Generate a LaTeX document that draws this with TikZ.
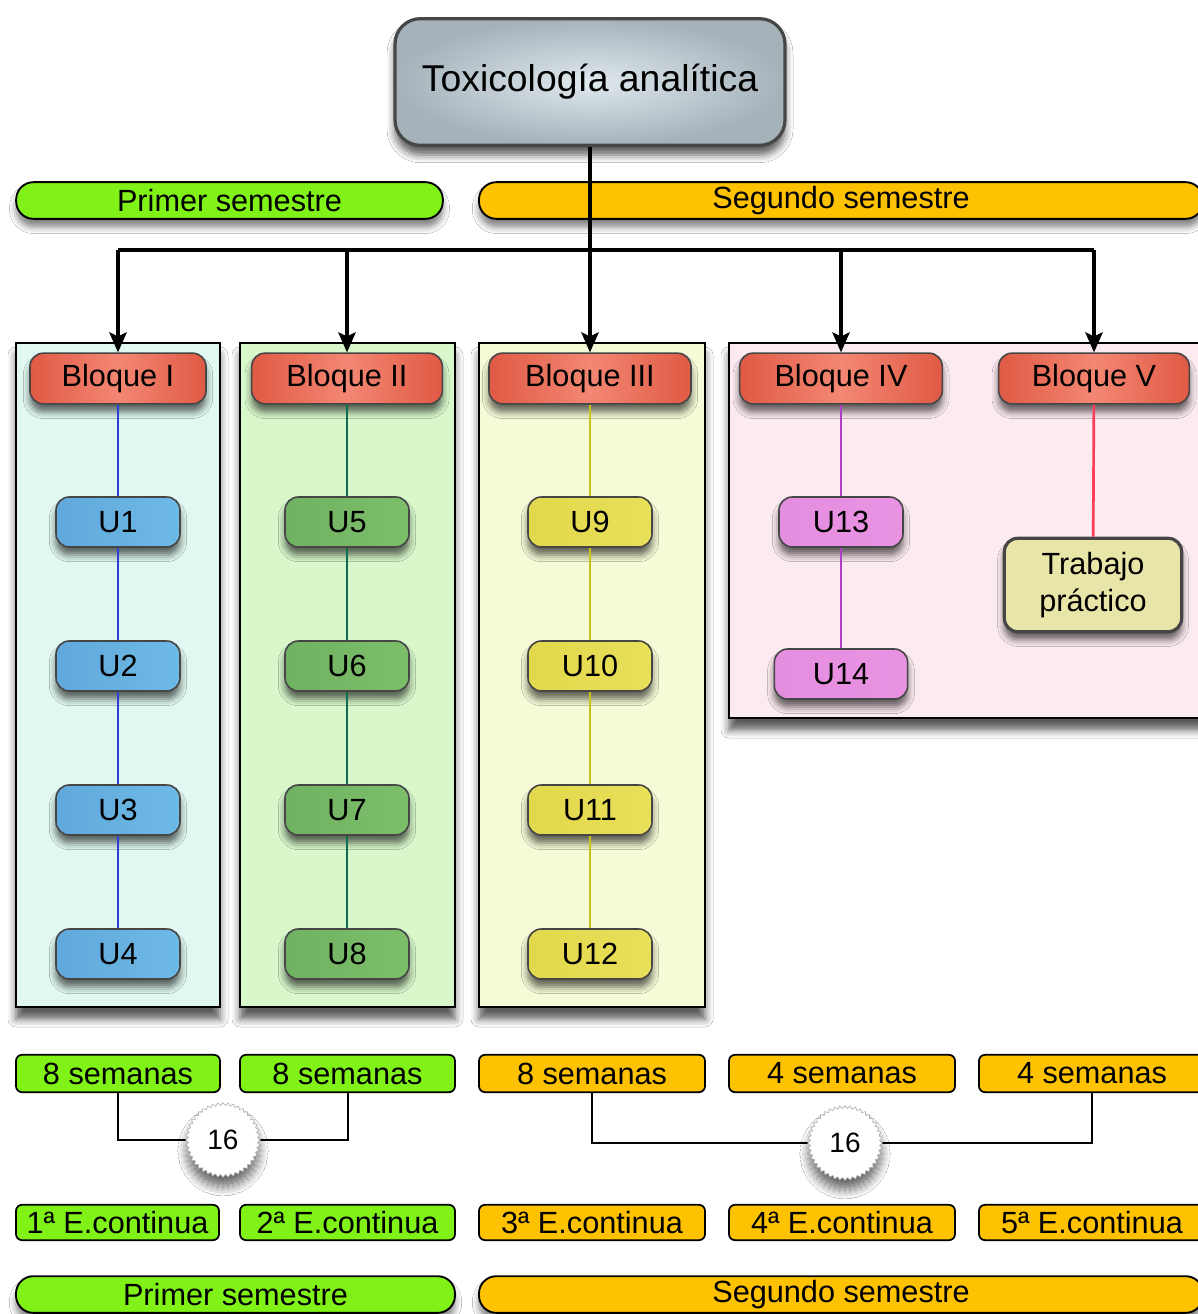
\documentclass[tikz,border=0pt]{standalone}
\usepackage{fontspec}
\setmainfont{Liberation Sans}
\usetikzlibrary{arrows.meta,shapes.geometric,shadows.blur}
\definecolor{lime}{RGB}{128,242,24}
\definecolor{amber}{RGB}{255,194,0}
\definecolor{bqdark}{RGB}{224,90,68}
\definecolor{bqlight}{RGB}{243,135,115}
\definecolor{bordg}{RGB}{70,70,70}
\definecolor{ubL}{RGB}{96,168,220}\definecolor{ubM}{RGB}{132,200,236}\definecolor{ubR}{RGB}{110,186,230}
\definecolor{ugL}{RGB}{112,178,98}\definecolor{ugM}{RGB}{156,208,136}\definecolor{ugR}{RGB}{124,190,104}
\definecolor{uyL}{RGB}{226,216,76}\definecolor{uyM}{RGB}{246,240,142}\definecolor{uyR}{RGB}{232,224,90}
\definecolor{upL}{RGB}{228,142,224}\definecolor{upM}{RGB}{216,176,228}\definecolor{upR}{RGB}{234,146,226}
\definecolor{lnB}{RGB}{42,63,216}
\definecolor{lnG}{RGB}{14,110,82}
\definecolor{lnY}{RGB}{200,196,28}
\definecolor{lnP}{RGB}{177,62,198}
\definecolor{lnR}{RGB}{255,61,92}
\definecolor{colA}{RGB}{224,248,241}
\definecolor{colB}{RGB}{216,248,204}
\definecolor{colC}{RGB}{246,250,215}
\definecolor{colD}{RGB}{251,234,239}
\definecolor{topIn}{RGB}{223,233,238}
\definecolor{topOut}{RGB}{165,178,186}
\definecolor{khaki}{RGB}{232,229,168}
\begin{document}
\begin{tikzpicture}[x=0.75pt,y=-0.75pt,
  txt/.style={inner sep=0pt, align=center, font=\fontsize{23}{28}\selectfont},
  shd/.style={blur shadow={shadow xshift=0pt, shadow yshift=-6pt, shadow opacity=60, shadow blur radius=5pt}},
  bloque/.style={txt, shd, rounded corners=10pt, draw=bordg, line width=1.2pt,
    minimum height=38pt, left color=bqdark, right color=bqdark, middle color=bqlight},
  unit/.style={txt, shd, rounded corners=10pt, draw=bordg, line width=1.2pt,
    minimum height=37.5pt, minimum width=93pt},
  ublue/.style={unit, left color=ubL, middle color=ubM, right color=ubR},
  ugreen/.style={unit, left color=ugL, middle color=ugM, right color=ugR},
  uyel/.style={unit, left color=uyL, middle color=uyM, right color=uyR},
  upink/.style={unit, left color=upL, middle color=upM, right color=upR},
  colbox/.style={draw=black, line width=1.4pt, inner sep=0pt,
    blur shadow={shadow xshift=0pt, shadow yshift=-9pt, shadow opacity=65, shadow blur radius=6pt}},
  sembar/.style={txt, draw=black, line width=1.4pt, rounded corners=13pt, minimum height=27.5pt,
    blur shadow={shadow xshift=0pt, shadow yshift=-6pt, shadow opacity=50, shadow blur radius=5pt}},
  tag/.style={txt, draw=black, line width=1.3pt, rounded corners=4.5pt},
  week/.style={tag, minimum height=28pt},
  econt/.style={tag, minimum height=26.5pt},
  conn/.style={line width=2.3pt, draw=black},
  arr/.style={conn, -{Stealth[length=15pt,width=13pt,inset=3pt]}},
  link/.style={line width=2pt},
  bracket/.style={line width=1.5pt, draw=black},
  burst/.style={star, star points=44, star point ratio=1.08, minimum size=56pt, inner sep=0pt,
    fill=white, draw=black!30, line width=0.5pt, font=\fontsize{21}{24}\selectfont,
    blur shadow={shadow xshift=0pt, shadow yshift=-8pt, shadow opacity=60, shadow blur radius=6pt}}
]
\clip (0,0) rectangle (1198,1314);
\fill[white] (0,0) rectangle (1198,1314);

% title
\node[txt, font=\fontsize{28}{32}\selectfont, draw=bordg, line width=2.4pt, rounded corners=19pt,
  minimum width=292.5pt, minimum height=95pt, inner color=topIn, outer color=topOut,
  blur shadow={shadow xshift=0pt, shadow yshift=-7pt, shadow opacity=65, shadow blur radius=6pt}]
  (top) at (590,82) {Toxicología analítica};

% top semester bars
\node[sembar, fill=lime, minimum width=320pt] (s1top) at (229.5,200.5) {Primer semestre};
\node[sembar, fill=amber, minimum width=543pt] (s2top) at (841,200.5) {Segundo semestre};

% column boxes
\node[colbox, fill=colA, minimum width=153pt, minimum height=498pt] (cA) at (118,675) {};
\node[colbox, fill=colB, minimum width=161.25pt, minimum height=498pt] (cB) at (347.5,675) {};
\node[colbox, fill=colC, minimum width=169.5pt, minimum height=498pt] (cC) at (592,675) {};
\node[colbox, fill=colD, minimum width=390pt, minimum height=281.25pt] (cD) at (989,530.5) {};

% bloques
\node[bloque, minimum width=132pt] (bI) at (118,378.5) {Bloque I};
\node[bloque, minimum width=143pt] (bII) at (347,378.5) {Bloque II};
\node[bloque, minimum width=151.5pt] (bIII) at (590,378.5) {Bloque III};
\node[bloque, minimum width=152pt] (bIV) at (841,378.5) {Bloque IV};
\node[bloque, minimum width=143pt] (bV) at (1094,378.5) {Bloque V};

% units
\node[ublue] (u1) at (118,522) {U1};
\node[ublue] (u2) at (118,666) {U2};
\node[ublue] (u3) at (118,810) {U3};
\node[ublue] (u4) at (118,954) {U4};
\node[ugreen] (u5) at (347,522) {U5};
\node[ugreen] (u6) at (347,666) {U6};
\node[ugreen] (u7) at (347,810) {U7};
\node[ugreen] (u8) at (347,954) {U8};
\node[uyel] (u9) at (590,522) {U9};
\node[uyel] (u10) at (590,666) {U10};
\node[uyel] (u11) at (590,810) {U11};
\node[uyel] (u12) at (590,954) {U12};
\node[upink] (u13) at (841,522) {U13};
\node[upink, minimum width=100pt] (u14) at (841,674) {U14};
\node[txt, shd, rounded corners=10pt, draw=bordg, line width=2.4pt, fill=khaki,
  minimum width=133pt, minimum height=70pt] (tp) at (1093,585) {Trabajo\\práctico};

% unit connectors
\draw[link, lnB] (bI) -- (u1) -- (u2) -- (u3) -- (u4);
\draw[link, lnG] (bII) -- (u5) -- (u6) -- (u7) -- (u8);
\draw[link, lnY] (bIII) -- (u9) -- (u10) -- (u11) -- (u12);
\draw[link, lnP] (bIV) -- (u13) -- (u14);
\draw[link, lnR] (bV) -- (tp);

% tree connectors
\coordinate (j) at (590,250);
\draw[arr] (top.south -| bIII) -- (bIII.north);
\draw[conn] (bI |- j) -- (bV |- j);
\foreach \b in {bI,bII,bIV,bV} \draw[arr] (\b |- j) -- (\b.north);

% weeks row
\node[week, fill=lime, minimum width=153pt] (w1) at (118,1073.5) {8 semanas};
\node[week, fill=lime, minimum width=161.25pt] (w2) at (347.5,1073.5) {8 semanas};
\node[week, fill=amber, minimum width=169.5pt] (w3) at (592,1073.5) {8 semanas};
\node[week, fill=amber, minimum width=169.5pt] (w4) at (842,1073.5) {4 semanas};
\node[week, fill=amber, minimum width=169.5pt] (w5) at (1092,1073.5) {4 semanas};

% brackets
\coordinate (k1) at (223,1140);
\coordinate (k2) at (845,1143);
\draw[bracket] (w1.south) -- (w1.south |- k1) -- (w2.south |- k1) -- (w2.south);
\draw[bracket] (w3.south) -- (w3.south |- k2) -- (w5.south |- k2) -- (w5.south);
\node[burst] (n1) at (k1) {16};
\node[burst] (n2) at (k2) {16};

% continuous evaluation row
\node[econt, fill=lime, minimum width=152.25pt] (e1) at (117.5,1222.5) {1ª E.continua};
\node[econt, fill=lime, minimum width=161.25pt] (e2) at (347.5,1222.5) {2ª E.continua};
\node[econt, fill=amber, minimum width=169.5pt] (e3) at (592,1222.5) {3ª E.continua};
\node[econt, fill=amber, minimum width=169.5pt] (e4) at (842,1222.5) {4ª E.continua};
\node[econt, fill=amber, minimum width=169.5pt] (e5) at (1092,1222.5) {5ª E.continua};

% bottom semester bars
\node[sembar, fill=lime, minimum width=329.25pt] (s1bot) at (235.5,1294.5) {Primer semestre};
\node[sembar, fill=amber, minimum width=543pt] (s2bot) at (841,1294.5) {Segundo semestre};
\end{tikzpicture}
\end{document}
